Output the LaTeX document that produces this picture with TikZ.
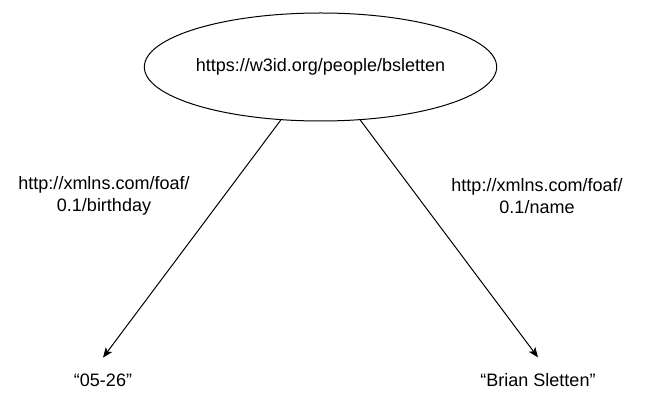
\documentclass[tikz,border=0pt]{standalone}
\usepackage{fontspec}
\setmainfont{Liberation Sans}
\usepackage{tikz}
\usetikzlibrary{arrows.meta,positioning,shapes.geometric}
\tikzset{
  resource/.style={ellipse, draw, line width=0.5pt, minimum width=158.5pt,
    minimum height=54pt, inner sep=0},
  literal/.style={inner sep=3pt, outer ysep=5pt},
  predicate/.style={align=center, inner sep=0},
  triple/.style={-{Stealth[length=5pt,width=4pt,inset=1.2pt]}, line width=0.5pt}
}

\begin{document}
\begin{tikzpicture}[x=0.5pt, y=-0.5pt, font=\fontsize{9}{11}\selectfont]
    \useasboundingbox (0,0) rectangle (652,400);
    \node[resource] (person) at (320.5,67) {https://w3id.org/people/bsletten};
    \node[literal] (bday) at (103,380) {“05-26”};
    \node[literal] (name) at (538,380) {“Brian Sletten”};
    \node[predicate] (bdaypred) at (104,196) {http://xmlns.com/foaf/\\0.1/birthday};
    \node[predicate] (namepred) at (537,196) {http://xmlns.com/foaf/\\0.1/name};
    \draw[triple] (person) -- (bday.north);
    \draw[triple] (person) -- (name.north);
  \end{tikzpicture}
\end{document}
